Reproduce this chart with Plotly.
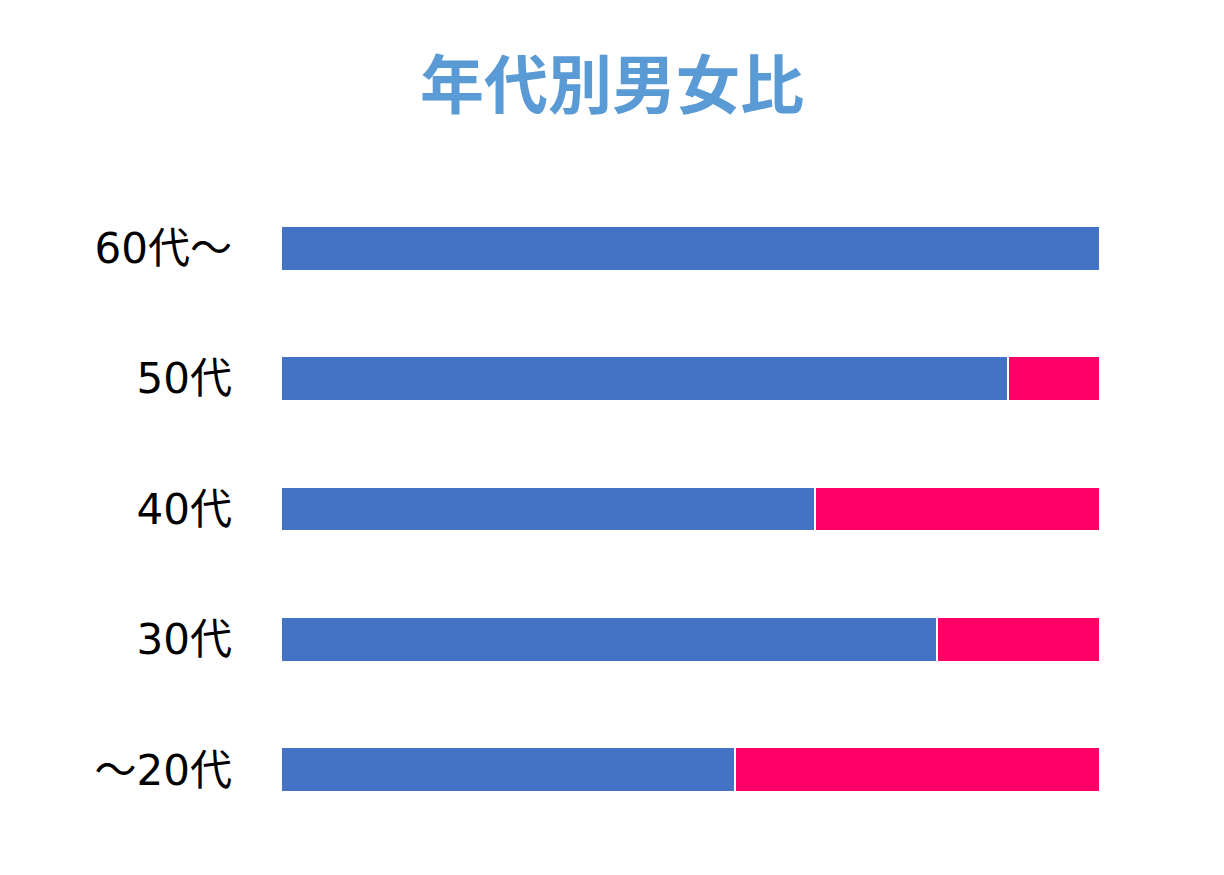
import plotly.graph_objects as go

# age groups, top to bottom as drawn
age_groups = ["60代～", "50代", "40代", "30代", "～20代"]
male_pct = [100.0, 88.8, 65.2, 80.1, 55.4]
female_pct = [0.0, 11.2, 34.8, 19.9, 44.6]

BLUE = "#4472C4"
PINK = "#FF0066"
FONT = "Noto Sans CJK JP, Noto Sans, sans-serif"
LABEL_FONT = "DejaVu Sans, Noto Sans CJK JP, sans-serif"

fig = go.Figure()

fig.add_trace(go.Bar(
    y=age_groups, x=male_pct, orientation="h", name="男性",
    marker=dict(color=BLUE, line=dict(color="white", width=2)),
))
fig.add_trace(go.Bar(
    y=age_groups, x=female_pct, orientation="h", name="女性",
    marker=dict(color=PINK, line=dict(color="white", width=2)),
))

# page body adds ~8px offset, so margins are shifted to compensate
fig.update_layout(
    barmode="stack",
    bargap=0.655,
    width=1224, height=875,
    paper_bgcolor="white", plot_bgcolor="white",
    showlegend=False,
    margin=dict(l=273, r=132, t=175, b=48),
    title=dict(
        text="<b>年代別男女比</b>",
        x=0.4935, xanchor="center", y=0.911, yanchor="middle",
        font=dict(family=FONT, size=64, color="#5B9BD5"),
    ),
    font=dict(family=FONT, color="black"),
)
fig.update_xaxes(visible=False, range=[0, 100])
fig.update_yaxes(
    autorange="reversed",
    showgrid=False, zeroline=False, showline=False,
    tickfont=dict(family=LABEL_FONT, size=42, color="black"),
    ticklabelstandoff=48,
)

fig.write_html("out.html")
